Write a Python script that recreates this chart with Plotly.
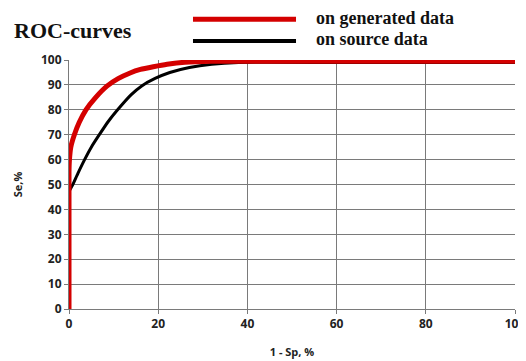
import plotly.graph_objects as go

# ROC curve data (1 - Sp, %) vs (Se, %)
gen_x = [0, 0, 0.1, 0.4, 1.2, 2.3, 3.8, 6, 8.5, 11, 13.7, 16, 18.9, 22, 26, 32, 40, 60, 80, 100]
gen_y = [0, 55, 60, 65, 70, 75, 80, 85, 89.5, 92.5, 94.8, 96.2, 97.3, 98.3, 99.1, 99.5, 99.5, 99.5, 99.5, 99.5]

src_x = [0, 0, 0.85, 2, 3.5, 5, 6.8, 8.8, 10.9, 13.9, 16.3, 19.3, 22.6, 27, 32, 38, 60, 80, 100]
src_y = [0, 47, 50, 54.5, 60, 65, 70, 75.3, 80, 86, 89.6, 92.6, 95, 97, 98.3, 99, 99, 99, 99]

x_ticks = [0, 20, 40, 60, 80, 100]
y_ticks = [0, 10, 20, 30, 40, 50, 60, 70, 80, 90, 100]

series_names = ["on generated data", "on source data"]
series_colors = ["#d40000", "#000000"]

fig = go.Figure()
fig.add_trace(go.Scatter(x=src_x, y=src_y, mode="lines", name=series_names[1],
                         line=dict(color=series_colors[1], width=3, shape="spline", smoothing=0.5),
                         showlegend=False))
fig.add_trace(go.Scatter(x=gen_x, y=gen_y, mode="lines", name=series_names[0],
                         line=dict(color=series_colors[0], width=5, shape="spline", smoothing=0.5),
                         showlegend=False))

# Legend drawn manually (long line samples as in the original)
serif = "Liberation Serif, Times New Roman, serif"
legend_rows = [(1.1635, 1.1667, series_names[0], series_colors[0], 5),
               (1.076, 1.084, series_names[1], series_colors[1], 4)]
for yl, yt, name, col, w in legend_rows:
    fig.add_shape(type="line", xref="paper", yref="paper", x0=0.278, x1=0.509, y0=yl, y1=yl,
                  line=dict(color=col, width=w))
    fig.add_annotation(xref="paper", yref="paper", x=0.549, y=yt, text=f"<b>{name}</b>",
                       showarrow=False, xanchor="left", yanchor="middle",
                       font=dict(family=serif, size=18, color="#111"))

fig.add_annotation(xref="paper", yref="paper", x=-0.128, y=1.12, text="<b>ROC-curves</b>",
                   showarrow=False, xanchor="left", yanchor="middle",
                   font=dict(family=serif, size=22, color="#111"))

axis_font = dict(family="Open Sans", size=12, color="#222")
title_font = dict(family="Open Sans", size=11, color="#222")
fig.update_xaxes(range=[0, 100], tickvals=x_ticks, ticktext=[f"<b>{v}</b>" for v in x_ticks],
                 showgrid=True, gridcolor="#7a7a7a", gridwidth=1,
                 showline=True, linecolor="#7a7a7a", linewidth=1,
                 ticks="outside", ticklen=4, tickcolor="#7a7a7a",
                 tickfont=axis_font, zeroline=False, automargin=False,
                 ticklabeloverflow="allow",
                 title=dict(text="<b>1 - Sp, %</b>", font=title_font, standoff=16))
fig.update_yaxes(range=[0, 100], tickvals=y_ticks, ticktext=[f"<b>{v}</b>" for v in y_ticks],
                 showgrid=True, gridcolor="#7a7a7a", gridwidth=1,
                 showline=True, linecolor="#7a7a7a", linewidth=1,
                 ticks="outside", ticklen=4, tickcolor="#7a7a7a",
                 tickfont=axis_font, zeroline=False, automargin=False,
                 title=dict(text="<b>Se,%</b>", font=title_font, standoff=16))

# The page places the figure 8px from the top-left corner, so size it to fit the window.
fig.update_layout(width=518, height=353, margin=dict(l=61, r=11, t=52, b=52),
                  plot_bgcolor="white", paper_bgcolor="white")

fig.write_html("out.html")
